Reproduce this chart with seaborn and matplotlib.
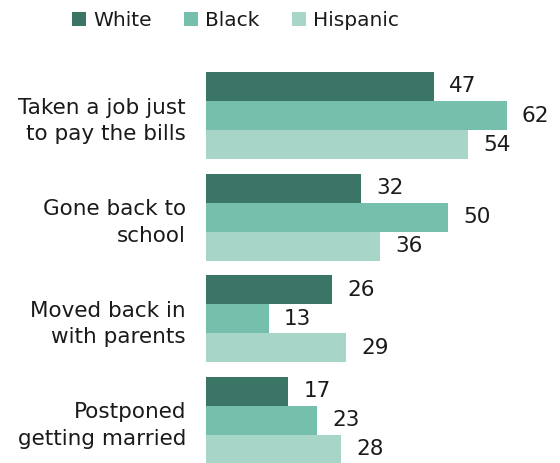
import matplotlib
matplotlib.use("Agg")
import matplotlib.pyplot as plt
import seaborn as sns
import pandas as pd

categories = ["Taken a job just\nto pay the bills", "Gone back to\nschool",
              "Moved back in\nwith parents", "Postponed\ngetting married"]
groups = ["White", "Black", "Hispanic"]
white = [47, 32, 26, 17]
black = [62, 50, 13, 23]
hispanic = [54, 36, 29, 28]
colors = ["#3a7565", "#77bfad", "#a7d6c9"]

rows = []
for g, vals in zip(groups, [white, black, hispanic]):
    for c, v in zip(categories, vals):
        rows.append({"category": c, "group": g, "value": v})
df = pd.DataFrame(rows)

sns.set_style("white")
plt.rcParams["font.family"] = ["DejaVu Sans"]
FS = 15.5
TC = "#1a1a1a"
fig = plt.figure(figsize=(5.6, 4.63), dpi=100)
ax = fig.add_axes([0.367, 0.0, 0.607, 0.86])
sns.barplot(data=df, y="category", x="value", hue="group", palette=colors,
            orient="h", width=0.86, ax=ax, legend=True, saturation=1, linewidth=0)
for cont in ax.containers:
    ax.bar_label(cont, labels=[str(int(v)) for v in cont.datavalues],
                 padding=11, fontsize=FS, color=TC)
ax.set_xlim(0, 70)
ax.set_ylim(3.42, -0.5)
ax.set_xlabel("")
ax.set_ylabel("")
ax.set_xticks([])
ax.tick_params(axis="y", length=0, pad=14, labelsize=FS, labelcolor=TC)
for s in ax.spines.values():
    s.set_visible(False)
ax.set_yticklabels(categories, ha="right", linespacing=1.4)
leg = ax.legend(loc="upper center", bbox_to_anchor=(0.42, 1.0), bbox_transform=fig.transFigure,
                ncol=3, frameon=False, fontsize=14.5, handlelength=0.7, handleheight=0.7,
                handletextpad=0.35, columnspacing=1.6, borderaxespad=0.15)
for t in leg.get_texts():
    t.set_color(TC)
fig.savefig("out.png", dpi=100)
